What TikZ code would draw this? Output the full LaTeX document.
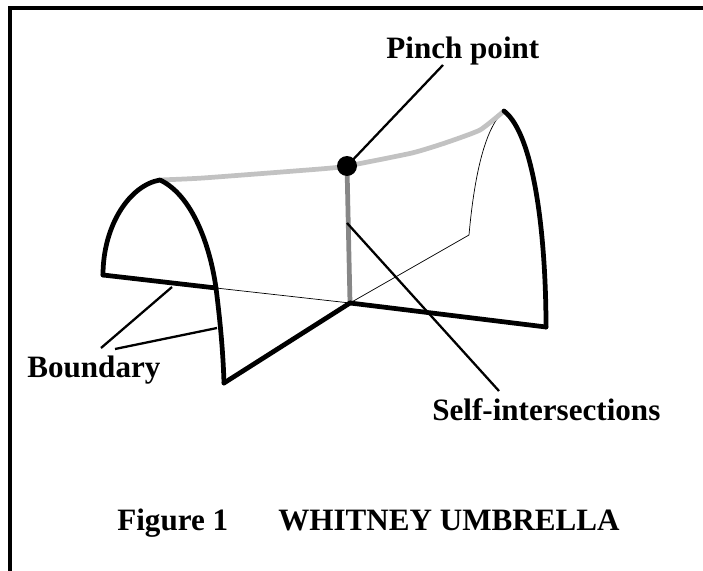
\documentclass[tikz,border=0pt]{standalone}
\usepackage{fontspec}
\setmainfont{Liberation Serif}
\tikzset{
    textlabel/.style={anchor=base west, inner sep=0pt, font=\fontsize{17.7}{20}\selectfont\bfseries},
    boundaryedge/.style={line width=2.7pt, line join=round, line cap=round},
    hiddenedge/.style={line width=0.4pt},
    selfedge/.style={line width=2.7pt, color=selfgray},
    leader/.style={line width=1.3pt}
}
\definecolor{selfgray}{gray}{0.53}
\definecolor{ridgegray}{gray}{0.76}
\begin{document}
\begin{tikzpicture}[x=0.02cm,y=-0.02cm]
        \useasboundingbox (0,0) rectangle (703,571);
        % frame
        \draw[line width=2.4pt] (10,571) -- (10,8) -- (703,8);
        % corners of the surface
        \coordinate (leftend) at (103,275);
        \coordinate (lefttop) at (160,180);
        \coordinate (leftcross) at (216,288);
        \coordinate (frontend) at (224,383);
        \coordinate (foot) at (350,303);
        \coordinate (rightend) at (546,327);
        \coordinate (righttop) at (504,111);
        \coordinate (backend) at (469,235);
        % leader ends
        \coordinate (selfstart) at (347,223);
        \coordinate (selfend) at (499,391);
        \coordinate (pinchend) at (443,65);
        \coordinate (boundaryone) at (172,287);
        \coordinate (boundaryonestart) at (101,348);
        \coordinate (boundarytwo) at (217,328);
        \coordinate (boundarytwostart) at (115,349);
        % thin lines behind
        \draw[hiddenedge] (leftcross) -- (foot);
        \draw[hiddenedge] (foot) -- (backend);
        \draw[hiddenedge] (backend) .. controls (473,190) and (482,130) .. (righttop);
        % grey lines
        \draw[selfedge] (foot) -- (347,166);
        \draw[line width=2.7pt, ridgegray, line join=round] plot[smooth, tension=0.3] coordinates {(lefttop) (203,178) (320,169) (347,166) (412,153) (445,143) (480,130) (righttop)};
        % boundary
        \draw[boundaryedge] (leftend) .. controls (103,225) and (130,185) .. (lefttop) .. controls (192,195) and (210,245) .. (leftcross) .. controls (220,320) and (223,350) .. (frontend);
        \draw[boundaryedge] (leftend) -- (leftcross);
        \draw[boundaryedge] (frontend) -- (foot);
        \draw[boundaryedge] (foot) -- (rightend);
        \draw[boundaryedge] (rightend) .. controls (546,240) and (535,135) .. (righttop);
        % pinch point
        \node[circle, fill=black, inner sep=0pt, minimum size=0.4cm] (pinch) at (347,166) {};
        % labels
        \node[textlabel] (pinchlabel) at (386,59) {Pinch point};
        \node[textlabel] (boundarylabel) at (27,377) {Boundary};
        \node[textlabel] (selflabel) at (432,420) {Self-intersections};
        \node[textlabel] (figlabel) at (117,530) {Figure 1};
        \node[textlabel] (titlelabel) at (278,530) {WHITNEY UMBRELLA};
        % leaders
        \draw[leader] (pinchend) -- (pinch.center);
        \draw[leader] (selfstart) -- (selfend);
        \draw[leader] (boundaryonestart) -- (boundaryone);
        \draw[leader] (boundarytwostart) -- (boundarytwo);
    \end{tikzpicture}
\end{document}
